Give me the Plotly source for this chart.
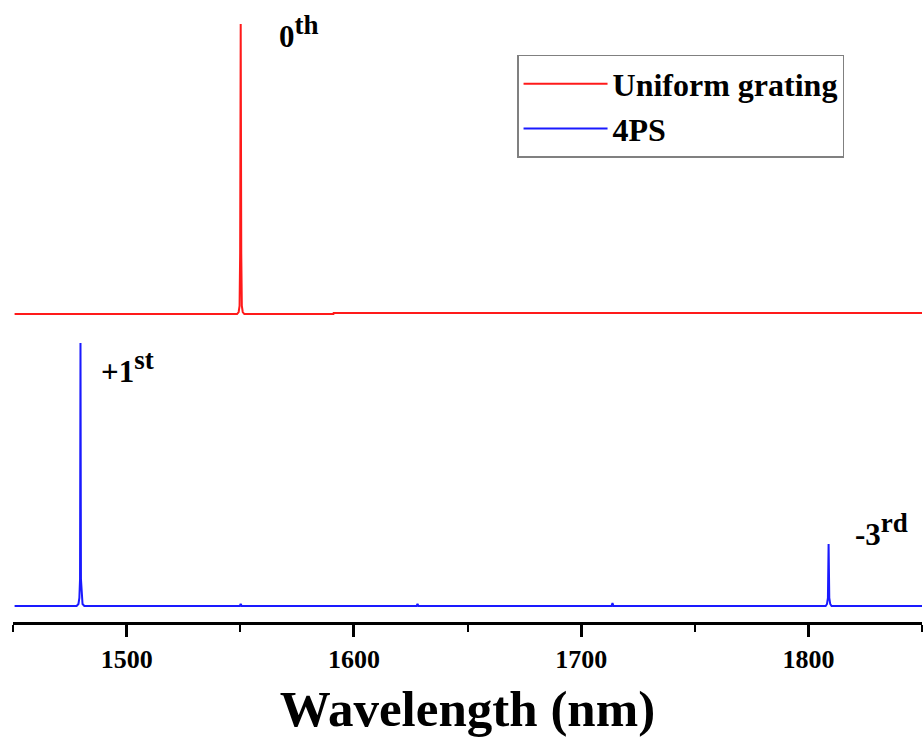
import plotly.graph_objects as go

# Uniform grating spectrum (offset trace), wavelength in nm
uniform_wl = [1450.7, 1548.6, 1549.3, 1549.7, 1549.95, 1550.2, 1550.45, 1550.7, 1551.1, 1551.8, 1591.0, 1591.1, 1850.0]
uniform_val = [3.00, 3.00, 3.02, 3.08, 3.60, 5.90, 3.60, 3.08, 3.02, 3.00, 3.00, 3.01, 3.01]

# 4PS spectrum (offset trace)
ps_wl = [1450.7, 1478.0, 1478.8, 1479.2, 1479.5, 1479.7, 1479.9, 1480.2, 1480.6, 1481.4,
         1549.8, 1550.2, 1550.6, 1627.6, 1628.0, 1628.4, 1713.4, 1713.8, 1714.2,
         1807.6, 1808.2, 1808.6, 1808.9, 1809.2, 1809.6, 1810.2, 1850.0]
ps_val = [0.08, 0.08, 0.10, 0.16, 0.35, 2.71, 0.35, 0.16, 0.10, 0.08,
          0.08, 0.10, 0.08, 0.08, 0.10, 0.08, 0.08, 0.11, 0.08,
          0.08, 0.10, 0.16, 0.70, 0.16, 0.10, 0.08, 0.08]

x_ticks = [1500, 1600, 1700, 1800]
series_names = ["Uniform grating", "4PS"]
peak_labels = [("0", "th", 1566.3, 5.82), ("+1", "st", 1488.0, 2.47), ("-3", "rd", 1819.5, 0.84)]

FONT = "Liberation Serif"

fig = go.Figure()
fig.add_trace(go.Scatter(x=uniform_wl, y=uniform_val, mode="lines", name="<b>" + series_names[0] + "</b>",
                         line=dict(color="#ff1a1a", width=2)))
fig.add_trace(go.Scatter(x=ps_wl, y=ps_val, mode="lines", name="<b>" + series_names[1] + "</b>",
                         line=dict(color="#1a1aff", width=2)))

for base, sup, xv, yv in peak_labels:
    fig.add_annotation(x=xv, y=yv,
                       text="<b>%s<sup><span style='font-size:27px'>%s</span></sup></b>" % (base, sup),
                       showarrow=False, xanchor="left", yanchor="middle",
                       font=dict(family=FONT, size=31, color="black"))

fig.update_layout(
    width=924, height=745,
    margin=dict(l=13, r=2, t=0, b=123),
    paper_bgcolor="white", plot_bgcolor="white",
    showlegend=True,
    legend=dict(x=0.5545, y=0.9116, xanchor="left", yanchor="top",
                bordercolor="#808080", borderwidth=1.5, bgcolor="white",
                font=dict(family=FONT, size=32, color="black"),
                itemwidth=84, tracegroupgap=0),
    xaxis=dict(range=[1450, 1850], tickvals=x_ticks,
               ticktext=["<b>%d</b>" % t for t in x_ticks],
               showline=True, linecolor="black", linewidth=3,
               ticks="outside", ticklen=12, tickwidth=3, tickcolor="black",
               minor=dict(dtick=50, tick0=1450, ticks="outside", ticklen=7, tickwidth=2, tickcolor="black"),
               showgrid=False, zeroline=False,
               tickfont=dict(family=FONT, size=26, color="black"),
               title=dict(text="<b>Wavelength (nm)</b>", standoff=18,
                          font=dict(family=FONT, size=51, color="black"))),
    yaxis=dict(range=[-0.08, 6.14], visible=False, showgrid=False, zeroline=False),
)

fig.write_html("out.html")
